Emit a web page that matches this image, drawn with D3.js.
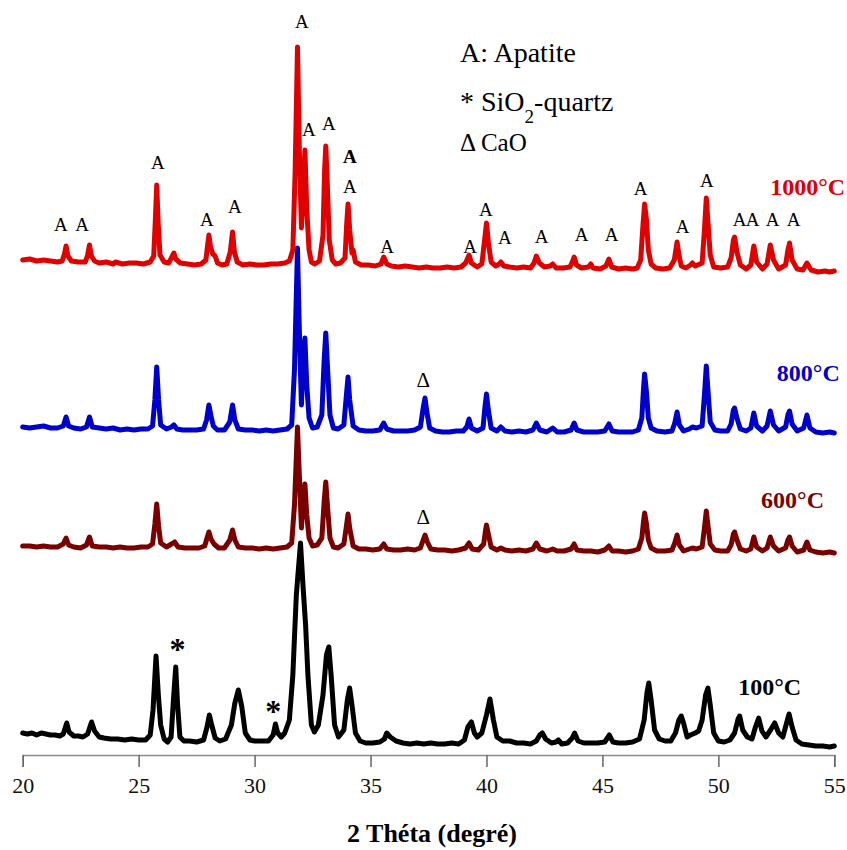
<!DOCTYPE html>
<html><head><meta charset="utf-8">
<script src="https://cdn.jsdelivr.net/npm/d3@7"></script>
<style>
body{margin:0;background:#fff}
svg{display:block;font-family:"Liberation Serif","Times New Roman",serif}
svg text{font-family:"Liberation Serif","Times New Roman",serif}
</style>
</head><body>
<svg id="chart" width="847" height="850"></svg>
<script>
// ---- data ----
const xTicks = [20, 25, 30, 35, 40, 45, 50, 55];
const seriesNames = ["1000°C", "800°C", "600°C", "100°C"];
const seriesOffsets = [475, 315, 195, 0];

const pattern1000 = [[20.0,20],[20.3,21],[20.6,19],[20.9,20],[21.2,19],[21.5,18],[21.7,19],[21.8,26],[21.87,34],[21.95,24],[22.1,19],[22.4,18],[22.7,18],[22.8,25],[22.88,35],[22.96,24],[23.1,19],[23.3,17],[23.6,18],[23.9,16],[24.0,18],[24.3,16],[24.6,17],[24.9,17],[25.2,16],[25.5,18],[25.65,24],[25.72,60],[25.78,95],[25.84,58],[25.92,25],[26.1,18],[26.3,17],[26.45,24],[26.52,27],[26.6,21],[26.8,17],[27.1,16],[27.4,15],[27.7,16],[27.9,20],[27.97,34],[28.03,45],[28.1,33],[28.2,26],[28.3,24],[28.4,17],[28.6,15],[28.8,16],[28.95,28],[29.05,48],[29.13,28],[29.25,18],[29.5,15],[29.8,16],[30.1,15],[30.4,15],[30.7,16],[31.0,16],[31.3,17],[31.5,19],[31.65,30],[31.75,110],[31.85,233],[31.93,130],[32.02,52],[32.1,90],[32.17,130],[32.25,70],[32.35,30],[32.45,18],[32.6,16],[32.8,19],[32.95,45],[33.02,110],[33.07,134],[33.13,100],[33.22,40],[33.35,20],[33.5,16],[33.7,17],[33.9,22],[33.97,55],[34.03,76],[34.1,50],[34.2,27],[34.25,30],[34.35,18],[34.6,15],[34.9,15],[35.2,14],[35.45,16],[35.57,23],[35.7,16],[35.9,14],[36.2,13],[36.5,14],[36.8,13],[37.1,12],[37.4,13],[37.7,12],[38.0,12],[38.3,13],[38.6,12],[38.9,13],[39.1,17],[39.25,25],[39.35,17],[39.6,13],[39.8,16],[39.92,40],[40.0,57],[40.08,38],[40.2,18],[40.4,14],[40.55,16],[40.62,18],[40.75,14],[41.0,13],[41.3,12],[41.6,13],[41.9,12],[42.05,17],[42.15,24],[42.28,17],[42.5,13],[42.75,14],[42.86,16],[43.0,12],[43.3,12],[43.6,13],[43.7,18],[43.78,23],[43.88,15],[44.1,12],[44.4,13],[44.5,16],[44.6,12],[44.9,11],[45.15,14],[45.28,21],[45.4,13],[45.7,11],[46.0,12],[46.3,11],[46.5,12],[46.65,20],[46.75,55],[46.82,76],[46.9,60],[46.98,30],[47.1,16],[47.3,12],[47.6,11],[47.9,12],[48.1,20],[48.22,38],[48.3,25],[48.4,14],[48.6,12],[48.8,15],[48.88,17],[49.0,14],[49.3,17],[49.4,50],[49.48,82],[49.56,55],[49.65,25],[49.8,13],[50.1,12],[50.4,13],[50.55,22],[50.65,40],[50.7,43],[50.8,28],[50.95,15],[51.2,11],[51.4,15],[51.53,34],[51.65,18],[51.9,11],[52.1,16],[52.24,35],[52.38,20],[52.6,11],[52.9,15],[53.0,30],[53.07,37],[53.18,20],[53.4,11],[53.65,10],[53.82,17],[54.0,10],[54.3,8],[54.6,9],[54.8,8],[55.0,9]];

const pattern800 = [[20.0,13],[20.3,12],[20.6,13],[20.9,14],[21.2,12],[21.5,12],[21.75,14],[21.87,23],[21.98,14],[22.2,12],[22.5,11],[22.75,13],[22.88,23],[23.0,13],[23.3,12],[23.6,11],[23.9,12],[24.2,10],[24.5,11],[24.8,10],[25.1,11],[25.4,11],[25.6,14],[25.7,40],[25.78,73],[25.86,40],[25.95,15],[26.2,11],[26.42,13],[26.52,15],[26.65,11],[26.9,10],[27.2,10],[27.5,10],[27.8,11],[27.93,20],[28.03,35],[28.12,24],[28.22,14],[28.4,10],[28.7,10],[28.93,18],[29.05,35],[29.15,20],[29.3,11],[29.6,10],[29.9,10],[30.2,9],[30.5,10],[30.8,9],[31.1,10],[31.4,11],[31.6,15],[31.72,70],[31.85,192],[31.93,110],[32.02,35],[32.1,80],[32.17,102],[32.25,55],[32.35,22],[32.5,12],[32.7,13],[32.9,25],[33.0,80],[33.07,107],[33.14,75],[33.25,25],[33.4,12],[33.6,11],[33.85,15],[33.96,45],[34.03,63],[34.1,40],[34.25,14],[34.5,10],[34.8,9],[35.1,9],[35.4,10],[35.57,17],[35.7,11],[36.0,9],[36.3,9],[36.6,9],[36.9,10],[37.15,13],[37.27,32],[37.35,42],[37.43,28],[37.55,12],[37.8,9],[38.1,8],[38.4,8],[38.7,9],[39.0,9],[39.15,13],[39.25,21],[39.35,12],[39.6,9],[39.85,12],[39.93,32],[40.0,46],[40.08,30],[40.2,12],[40.45,9],[40.62,13],[40.8,9],[41.1,8],[41.4,9],[41.7,8],[42.0,10],[42.15,17],[42.3,10],[42.6,8],[42.86,12],[43.05,8],[43.35,8],[43.65,10],[43.78,17],[43.9,10],[44.2,8],[44.5,8],[44.8,8],[45.1,9],[45.28,16],[45.42,9],[45.7,8],[46.0,8],[46.3,8],[46.55,10],[46.7,22],[46.77,50],[46.82,66],[46.9,48],[46.98,22],[47.1,12],[47.35,9],[47.7,8],[48.0,9],[48.12,17],[48.22,28],[48.32,15],[48.5,9],[48.75,11],[48.88,13],[49.05,12],[49.3,14],[49.4,45],[49.48,74],[49.55,50],[49.65,18],[49.85,10],[50.1,9],[50.4,9],[50.55,16],[50.65,30],[50.7,32],[50.8,22],[50.95,11],[51.2,9],[51.4,12],[51.53,27],[51.65,14],[51.9,9],[52.1,14],[52.24,29],[52.38,15],[52.6,9],[52.9,13],[53.0,25],[53.07,29],[53.18,16],[53.4,9],[53.68,12],[53.82,25],[53.95,12],[54.2,8],[54.5,7],[54.8,8],[55.0,7]];

const pattern600 = [[20.0,14],[20.3,14],[20.6,13],[20.9,14],[21.2,13],[21.5,13],[21.75,16],[21.87,22],[21.98,15],[22.2,13],[22.5,12],[22.75,15],[22.88,23],[23.0,14],[23.3,13],[23.6,13],[23.9,12],[24.2,13],[24.5,12],[24.8,12],[25.1,13],[25.4,13],[25.6,16],[25.7,36],[25.78,56],[25.86,34],[25.95,17],[26.2,13],[26.42,16],[26.55,18],[26.7,13],[27.0,12],[27.3,12],[27.6,12],[27.85,14],[27.95,22],[28.03,28],[28.12,21],[28.25,16],[28.45,12],[28.7,12],[28.93,20],[29.05,30],[29.15,20],[29.3,13],[29.6,12],[29.9,12],[30.2,11],[30.5,12],[30.8,11],[31.1,12],[31.4,13],[31.6,17],[31.72,55],[31.85,133],[31.93,85],[32.02,32],[32.1,60],[32.17,76],[32.25,45],[32.35,22],[32.5,14],[32.7,15],[32.9,22],[33.0,58],[33.07,78],[33.14,55],[33.25,22],[33.4,13],[33.6,12],[33.85,16],[33.96,34],[34.03,46],[34.1,32],[34.25,14],[34.5,11],[34.8,11],[35.1,10],[35.4,11],[35.57,16],[35.7,11],[36.0,10],[36.3,10],[36.6,11],[36.9,10],[37.15,12],[37.27,20],[37.35,25],[37.45,18],[37.6,11],[37.9,10],[38.2,10],[38.5,9],[38.8,10],[39.1,12],[39.25,17],[39.38,11],[39.65,10],[39.88,16],[39.95,28],[40.0,35],[40.08,26],[40.2,13],[40.45,10],[40.62,12],[40.8,10],[41.1,9],[41.4,10],[41.7,9],[42.0,11],[42.15,17],[42.3,11],[42.6,9],[42.86,11],[43.05,9],[43.35,9],[43.65,11],[43.78,16],[43.9,10],[44.2,9],[44.5,9],[44.8,8],[45.1,10],[45.28,14],[45.42,9],[45.7,9],[46.0,8],[46.3,9],[46.55,11],[46.7,22],[46.77,38],[46.82,47],[46.9,36],[46.98,20],[47.1,12],[47.35,9],[47.7,9],[48.0,10],[48.12,17],[48.22,25],[48.32,15],[48.5,9],[48.75,11],[48.88,12],[49.05,11],[49.3,13],[49.4,32],[49.48,49],[49.55,35],[49.65,16],[49.85,10],[50.1,9],[50.4,9],[50.55,15],[50.65,26],[50.7,28],[50.8,20],[50.95,11],[51.2,9],[51.4,11],[51.53,23],[51.65,13],[51.9,9],[52.1,12],[52.24,23],[52.38,14],[52.6,9],[52.9,12],[53.0,20],[53.07,23],[53.18,14],[53.4,8],[53.68,10],[53.82,18],[53.95,10],[54.2,8],[54.5,7],[54.8,8],[55.0,7]];

const pattern100 = [[20.0,22],[20.2,21],[20.4,22],[20.6,20],[20.8,22],[21.0,21],[21.2,20],[21.4,20],[21.6,19],[21.75,21],[21.9,32],[22.0,23],[22.2,19],[22.4,19],[22.6,18],[22.8,21],[22.97,33],[23.1,24],[23.3,18],[23.5,17],[23.8,16],[24.1,16],[24.4,15],[24.7,16],[25.0,15],[25.3,15],[25.5,20],[25.62,45],[25.75,99],[25.85,60],[25.95,30],[26.1,16],[26.25,13],[26.4,18],[26.5,55],[26.6,88],[26.68,50],[26.78,18],[26.95,14],[27.2,14],[27.5,13],[27.8,15],[27.95,28],[28.05,40],[28.15,30],[28.3,17],[28.5,14],[28.75,16],[29.0,30],[29.15,52],[29.3,65],[29.45,48],[29.6,22],[29.8,15],[30.0,14],[30.3,14],[30.6,14],[30.8,20],[30.9,31],[31.0,22],[31.15,18],[31.3,22],[31.5,35],[31.65,80],[31.8,160],[31.98,212],[32.1,165],[32.2,130],[32.3,80],[32.45,30],[32.58,23],[32.75,30],[32.95,60],[33.1,100],[33.2,108],[33.3,80],[33.45,30],[33.62,18],[33.85,25],[34.0,55],[34.1,67],[34.2,50],[34.35,22],[34.55,14],[34.8,12],[35.1,12],[35.4,13],[35.6,16],[35.7,22],[35.85,18],[36.1,14],[36.4,12],[36.7,11],[37.0,12],[37.3,11],[37.6,12],[37.9,11],[38.2,11],[38.5,12],[38.8,11],[39.05,15],[39.2,28],[39.35,33],[39.48,22],[39.6,18],[39.8,22],[40.0,40],[40.15,56],[40.3,35],[40.45,18],[40.7,14],[41.0,14],[41.3,12],[41.6,12],[41.9,11],[42.15,14],[42.3,20],[42.41,22],[42.55,16],[42.8,12],[43.0,13],[43.1,15],[43.25,11],[43.5,12],[43.7,17],[43.8,22],[43.95,14],[44.2,12],[44.5,12],[44.8,12],[45.1,13],[45.3,20],[45.45,13],[45.7,12],[46.0,12],[46.3,13],[46.6,16],[46.8,35],[46.92,62],[47.0,72],[47.1,55],[47.25,25],[47.45,16],[47.7,14],[47.95,14],[48.15,22],[48.3,35],[48.4,39],[48.5,32],[48.65,18],[48.8,20],[49.0,22],[49.15,24],[49.3,35],[49.45,60],[49.55,67],[49.65,50],[49.8,22],[50.0,14],[50.25,13],[50.5,15],[50.7,22],[50.85,36],[50.92,39],[51.05,25],[51.25,18],[51.45,16],[51.6,28],[51.74,37],[51.88,24],[52.05,18],[52.25,25],[52.43,32],[52.6,22],[52.78,18],[52.92,30],[53.05,41],[53.18,28],[53.35,15],[53.6,11],[53.9,10],[54.2,9],[54.5,9],[54.8,8],[55.0,9]];

// peak markers: [2theta, intensity] (relative to their own pattern)
const apatiteMarks1000 = [[21.65,55],[22.56,55],[25.83,117],[27.94,60],[29.15,73],[32.04,258],[32.34,150],[33.2,156],[34.11,123],[34.11,93],[35.72,33],[39.29,33],[39.97,70],[40.79,42],[42.38,43],[44.1,45],[45.4,45],[46.65,91],[48.46,53],[49.5,99],[50.92,60],[51.48,60],[52.34,60],[53.25,60]];
const caoMarks800 = [[37.27,60]];
const caoMarks600 = [[37.27,43]];
const quartzMarks100 = [[26.68,115],[30.8,53]];
const seriesLabelPos = [[53.85,93],[53.88,67],[53.2,60],[52.21,68]];
const xTitle = "2 Théta (degré)";

// ---- chart ----
const serif = "'Liberation Serif','Times New Roman',serif";
const svg = d3.select("#chart");
const x = d3.scaleLinear().domain([20, 55]).range([22.7, 834.3]);
const y = d3.scaleLinear().domain([0, 760]).range([755, -5]);
const colors = ["#e00000", "#0000cc", "#7a0000", "#000000"];
const patterns = [pattern1000, pattern800, pattern600, pattern100];

const line = d3.line().x(d => x(d[0])).y(d => y(d[1]));
// draw order: 800, 1000, 600, 100
[1, 0, 2, 3].forEach(i => {
  const off = seriesOffsets[i];
  svg.append("path")
    .datum(patterns[i].map(d => [d[0], d[1] + off]))
    .attr("d", line)
    .attr("fill", "none")
    .attr("stroke", colors[i])
    .attr("stroke-width", 5)
    .attr("stroke-linejoin", "round")
    .attr("stroke-linecap", "round");
});

// axis
const ax = svg.append("g").attr("transform", "translate(0,755)")
  .call(d3.axisBottom(x).tickValues(xTicks).tickSize(12).tickPadding(10).tickFormat(d3.format("d")));
ax.attr("font-family", null).style("font-family", serif);
ax.select(".domain").attr("stroke", "#8c8c8c").attr("stroke-width", 1.5);
ax.selectAll(".tick line").attr("stroke", "#666").attr("stroke-width", 1.5);
ax.selectAll(".tick text").attr("font-size", 22).attr("fill", "#111")
  .style("font-family", serif);

svg.append("text").attr("x", 432).attr("y", 842).attr("text-anchor", "middle")
  .attr("font-size", 26).attr("font-weight", "bold").text(xTitle);

// markers
const off1000 = seriesOffsets[0];
svg.selectAll("text.apa").data(apatiteMarks1000).enter().append("text")
  .attr("class", "apa")
  .attr("x", d => x(d[0])).attr("y", d => y(d[1] + off1000))
  .attr("dy", "0.33em").attr("text-anchor", "middle")
  .attr("font-size", 19)
  .attr("font-weight", (d, i) => i === 8 ? "bold" : "normal")
  .text("A");

[[caoMarks800, seriesOffsets[1]], [caoMarks600, seriesOffsets[2]]].forEach(([arr, off]) => {
  svg.selectAll(null).data(arr).enter().append("text")
    .attr("x", d => x(d[0])).attr("y", d => y(d[1] + off))
    .attr("dy", "0.35em").attr("text-anchor", "middle")
    .attr("font-size", 21).text("Δ");
});

svg.selectAll(null).data(quartzMarks100).enter().append("text")
  .attr("x", d => x(d[0])).attr("y", d => y(d[1] + seriesOffsets[3]))
  .attr("dy", "0.62em").attr("text-anchor", "middle")
  .attr("font-size", 32).attr("font-weight", "bold").text("*");

// series labels
seriesNames.forEach((name, i) => {
  svg.append("text")
    .attr("x", x(seriesLabelPos[i][0])).attr("y", y(seriesLabelPos[i][1] + seriesOffsets[i]))
    .attr("dy", "0.34em").attr("text-anchor", "middle")
    .attr("font-size", 24).attr("font-weight", "bold")
    .attr("fill", colors[i]).text(name);
});

// legend
const lg = svg.append("g").attr("font-size", 28);
lg.append("text").attr("x", 460).attr("y", 62).text("A: Apatite");
const t2 = lg.append("text").attr("x", 460).attr("y", 111);
t2.append("tspan").text("* SiO");
t2.append("tspan").attr("font-size", 19).attr("dy", 12).text("2");
t2.append("tspan").attr("dy", -12).text("-quartz");
lg.append("text").attr("x", 460).attr("y", 151).attr("font-size", 25).text("Δ CaO");
</script>
</body></html>
